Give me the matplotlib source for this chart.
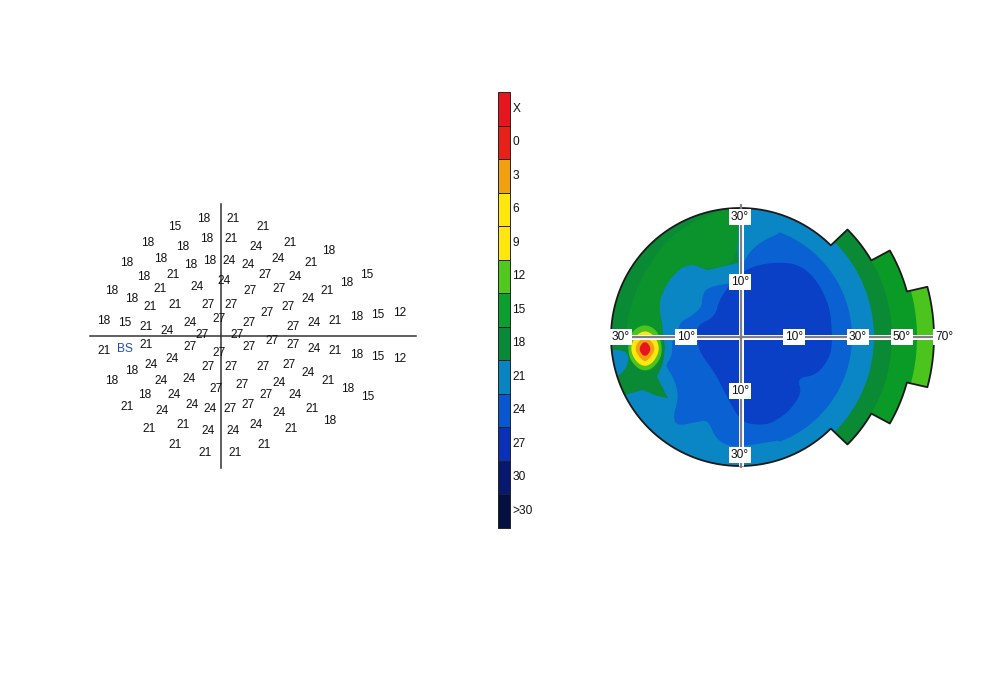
import matplotlib
matplotlib.use("Agg")
import matplotlib.pyplot as plt
import numpy as np
from matplotlib.patches import Circle, Polygon, Rectangle

plt.rcParams["font.family"] = ["Liberation Sans", "DejaVu Sans"]

# grid of sensitivity values (dB), picture coordinates
point_x = [175, 204, 233, 148, 183, 207, 231, 256, 127, 161, 191, 210, 229, 248, 144, 173, 224, 112, 132, 160,
           197, 250, 150, 175, 208, 231, 104, 125, 146, 167, 190, 219, 249, 202, 237,
           263, 290, 329, 278, 311, 367, 265, 295, 347, 279, 327, 308, 288, 267, 400, 378, 357, 335, 314, 293, 272,
           104, 146, 190, 219, 249, 151, 172, 132, 208, 231, 112, 161, 189, 216, 242, 145, 174, 127, 162, 192, 210,
           230, 248, 256, 149, 183, 208, 233, 175, 205, 235,
           293, 314, 335, 357, 378, 400, 263, 289, 308, 279, 328, 348, 368, 266, 295, 312, 279, 330, 291, 264]
point_y = [226, 218, 218, 242, 246, 239, 239, 246, 263, 259, 265, 261, 261, 265, 276, 275, 281, 290, 299, 289,
           287, 291, 306, 304, 305, 305, 320, 322, 326, 331, 323, 318, 323, 335, 335,
           226, 242, 250, 259, 263, 274, 275, 276, 282, 289, 290, 299, 306, 313, 312, 314, 317, 321, 323, 326, 340,
           350, 345, 347, 352, 347, 364, 358, 371, 366, 366, 380, 381, 379, 389, 384, 394, 395, 407, 411, 405, 409,
           409, 405, 424, 429, 424, 431, 431, 444, 452, 452,
           345, 349, 351, 354, 357, 359, 367, 364, 372, 382, 381, 389, 397, 395, 395, 408, 412, 420, 429, 444]
point_val = [15, 18, 21, 18, 18, 18, 21, 24, 18, 18, 18, 18, 24, 24, 18, 21, 24, 18, 18, 21,
             24, 27, 21, 21, 27, 27, 18, 15, 21, 24, 24, 27, 27, 27, 27,
             21, 21, 18, 24, 21, 15, 27, 24, 18, 27, 21, 24, 27, 27, 12, 15, 18, 21, 24, 27, 27,
             21, 21, 27, 27, 27, 24, 24, 18, 27, 27, 18, 24, 24, 27, 27, 18, 24, 21, 24, 24, 24,
             27, 27, 24, 21, 21, 24, 24, 21, 21, 21,
             27, 24, 21, 18, 15, 12, 27, 27, 24, 24, 21, 18, 15, 27, 24, 21, 24, 18, 21, 21]

# colour scale
scale_labels = ["X", "0", "3", "6", "9", "12", "15", "18", "21", "24", "27", "30", ">30"]
scale_colors = ["#e8141e", "#e8201a", "#f0a010", "#ffe60f", "#ffe60f", "#52c81e", "#0c9e2e", "#0a8a38",
                "#0a84c0", "#0a55d0", "#0a30b8", "#08186e", "#061040"]

# colours as they look inside the map
map_12 = "#4cc41e"
map_15 = "#0a9a26"
map_15_left = "#0c942c"
map_18 = "#0a8a34"
map_21 = "#0b86c4"
map_24 = "#0a62d2"
map_27 = "#0a40c6"

# outer edge of the interpolated map: half angle (deg) and radius of each step
step_angles = [45, 30, 15]
step_radii = [152, 173, 194]
base_radius = 129

# contour outlines of the map
green_outline = [(735, 200), (600, 200), (600, 400), (628, 394), (643, 390), (657, 396), (668, 398), (657, 377),
                 (663, 363), (665, 347), (663, 335), (662, 323), (658, 303), (667, 283), (680, 268), (693, 264),
                 (707, 270), (738, 263)]
left_strip = [(600, 350), (627, 350), (629, 363), (620, 376), (600, 384)]
bright_green = [(738, 205), (700, 218), (668, 238), (642, 275), (626, 320), (628, 350), (640, 372), (656, 370),
                (664, 345), (658, 303), (667, 283), (680, 268), (693, 264), (707, 270), (738, 263)]
blue24_left = [(780, 233), (760, 242), (745, 257), (738, 282), (707, 287), (702, 297), (702, 307), (690, 317),
               (680, 322), (678, 333), (672, 340), (672, 357), (665, 365), (672, 375), (677, 388), (678, 400),
               (673, 417), (677, 426), (697, 422), (708, 420), (715, 437), (725, 445), (740, 447), (780, 440)]
blue27 = [(780, 262), (800, 265), (817, 280), (830, 307), (832, 333), (832, 343), (830, 357), (817, 375), (797, 378),
          (802, 393), (790, 410), (780, 418), (767, 425), (747, 424), (738, 417), (725, 393), (715, 373), (700, 353),
          (697, 340), (697, 325), (715, 317), (720, 297), (740, 273), (757, 265)]
spot_12 = [(645, 324), (657, 330), (662, 345), (661, 358), (653, 368), (645, 371), (637, 368), (629, 358), (628, 342),
           (633, 330)]
spot_6 = [(645, 330), (655, 336), (660, 349), (654, 362), (645, 367), (636, 362), (630, 349), (635, 336)]
spot_3 = [(645, 336), (653, 343), (655, 350), (650, 358), (645, 362), (640, 358), (635, 350), (637, 343)]
spot_0 = [(645, 340), (652, 349), (645, 358), (638, 349)]

# degree labels along the cross
x_ticks = [(621, "30°"), (686, "10°"), (794, "10°"), (858, "30°"), (902, "50°"), (944, "70°")]
y_ticks = [(217, "30°"), (282, "10°"), (391, "10°"), (455, "30°")]

cx, cy = 740, 337


def smooth(pts):
    # corner cutting so the contours are not angular
    pts = np.asarray(pts, dtype=float)
    for _ in range(2):
        nxt = np.roll(pts, -1, axis=0)
        pts = np.vstack([0.75 * pts + 0.25 * nxt, 0.25 * pts + 0.75 * nxt])
        order = np.arange(len(pts)).reshape(2, -1).T.ravel()
        pts = pts[order]
    return pts


fig = plt.figure(figsize=(10, 6.77), dpi=100)
ax = fig.add_axes([0, 0, 1, 1])
ax.set_xlim(0, 1000)
ax.set_ylim(677, 0)
ax.axis("off")

# left panel, numeric grid
for x, y, v in zip(point_x, point_y, point_val):
    ax.text(x, y + 0.5, str(v), fontsize=8.6, color="#111111", ha="center", va="center", zorder=3)
ax.text(125, 348.5, "BS", fontsize=8.6, color="#1f4fb0", ha="center", va="center", zorder=3)
ax.plot([90, 416], [336, 336], color="#333333", lw=1.1, zorder=2)
ax.plot([221, 221], [204, 468], color="#333333", lw=1.1, zorder=2)

# middle, colour scale
bar_top, bar_bottom = 92, 527.5
seg = (bar_bottom - bar_top) / len(scale_labels)
for i, (lab, col) in enumerate(zip(scale_labels, scale_colors)):
    y0 = bar_top + i * seg
    ax.add_patch(Rectangle((498, y0), 12, seg, facecolor=col, edgecolor="#222222", lw=0.7))
    ax.text(512.5, y0 + seg / 2, lab, fontsize=8.6, color="#111111", ha="left", va="center")

# right panel, outer shape with steps on the temporal side
angles = np.linspace(-180, 180, 1441)
radii = np.full_like(angles, base_radius, dtype=float)
for half, rad in zip(step_angles, step_radii):
    radii[np.abs(angles) <= half] = rad
outline = np.column_stack([cx + radii * np.cos(np.radians(angles)), cy - radii * np.sin(np.radians(angles))])
clip = Polygon(outline, closed=True, transform=ax.transData, facecolor="none", edgecolor="none")
ax.add_patch(clip)


def clipped(patch):
    ax.add_patch(patch)
    patch.set_clip_path(clip)


for rad, col in [(200, map_12), (177, map_15), (152, map_18), (134, map_21)]:
    clipped(Circle((cx, cy), rad, facecolor=col, edgecolor="none"))

clipped(Polygon(green_outline, facecolor=map_18, edgecolor="none"))
clipped(Polygon(smooth(bright_green), facecolor=map_15_left, edgecolor="none"))
clipped(Polygon(smooth(left_strip), facecolor=map_21, edgecolor="none"))

arc = np.radians(np.linspace(-70, 70, 60))
blue24_arc = np.column_stack([cx + 112 * np.cos(arc), cy - 112 * np.sin(arc)])
clipped(Polygon(smooth(np.vstack([blue24_left, blue24_arc])), facecolor=map_24, edgecolor="none"))
clipped(Polygon(smooth(blue27), facecolor=map_27, edgecolor="none"))

for pts, col in [(spot_12, map_12), (spot_6, scale_colors[3]), (spot_3, scale_colors[2]),
                 (spot_0, scale_colors[0])]:
    clipped(Polygon(smooth(pts), facecolor=col, edgecolor="none"))

ax.plot(*np.vstack([outline, outline[:1]]).T, color="#1a1a1a", lw=1.3, zorder=4)

# cross
ax.plot([611, 934], [337, 337], color="white", lw=3.6, zorder=5, solid_capstyle="butt")
ax.plot([611, 934], [337, 337], color="#808080", lw=1.6, zorder=6, solid_capstyle="butt")
ax.plot([741, 741], [209, 466], color="white", lw=3.6, zorder=5, solid_capstyle="butt")
ax.plot([741, 741], [204, 468], color="#808080", lw=1.6, zorder=6, solid_capstyle="butt")

box = dict(facecolor="white", edgecolor="none", pad=1.4)
for x, lab in x_ticks:
    ax.text(x, 337, lab, fontsize=8.6, color="#111111", ha="center", va="center", bbox=box, zorder=7)
for y, lab in y_ticks:
    ax.text(740, y, lab, fontsize=8.6, color="#111111", ha="center", va="center", bbox=box, zorder=7)

fig.savefig("out.png", dpi=100)
